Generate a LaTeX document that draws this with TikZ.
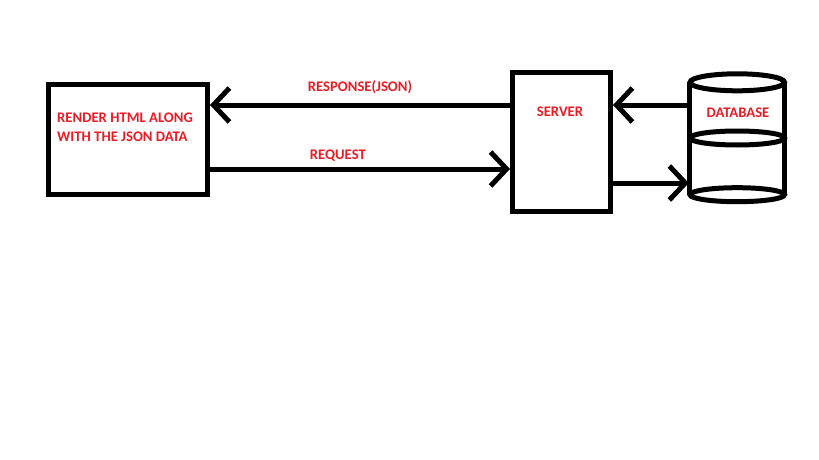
\documentclass[tikz,border=0pt]{standalone}
\usepackage{fontspec}
\setmainfont{Carlito}
\usetikzlibrary{arrows.meta}
\definecolor{pred}{RGB}{237,28,36}
\begin{document}
\begin{tikzpicture}[x=1pt,y=-1pt,
  box/.style={draw=black,line width=5pt,minimum width=#1,inner sep=0pt},
  lbl/.style={text=pred,font=\fontsize{14.67}{19}\selectfont\bfseries,inner sep=0pt},
  arr/.style={line width=5pt,-{Straight Barb[length=16pt,width=34pt]}}]
\useasboundingbox[fill=white] (0,0) rectangle (819,460);
% boxes
\node[box=159.5pt,minimum height=110pt] (client) at (127.75,139) {};
\node[box=98pt,minimum height=138pt] (server) at (561.5,142) {};
\node[minimum width=94.5pt,minimum height=112pt,inner sep=0pt] (db) at (737.25,138.5) {};
% database cylinder
\begin{scope}[line width=5pt]
\draw (db.north west) -- (db.south west);
\draw (db.north east) -- (db.south east);
\draw (db.north) ellipse [x radius=47.25, y radius=8.5];
\draw ([yshift=0.5pt]db.center) ellipse [x radius=47.25, y radius=7];
\draw (db.south) ellipse [x radius=47.25, y radius=7];
\end{scope}
% texts
\node[lbl,align=left,anchor=north west] (ctext) at (57,113) {RENDER HTML ALONG\\WITH THE JSON DATA};
\node[lbl] (stext) at (560,112) {SERVER};
\node[lbl] (dtext) at (738,113) {DATABASE};
% connectors
\draw[arr] ([yshift=37pt]server.west) -- node[lbl,pos=0.5,yshift=18pt] (resp) {RESPONSE(JSON)} ([yshift=34pt]client.east);
\draw[arr] ([yshift=-30pt,xshift=-2pt]client.east) -- node[lbl,pos=0.43,yshift=13pt] (req) {REQUEST} ([yshift=-27pt]server.west);
\draw[arr] ([yshift=33.5pt]db.west) -- ([yshift=37pt]server.east);
\draw[arr] ([yshift=-41pt]server.east) -- ([yshift=-44.5pt,xshift=-1pt]db.west);
\end{tikzpicture}
\end{document}
